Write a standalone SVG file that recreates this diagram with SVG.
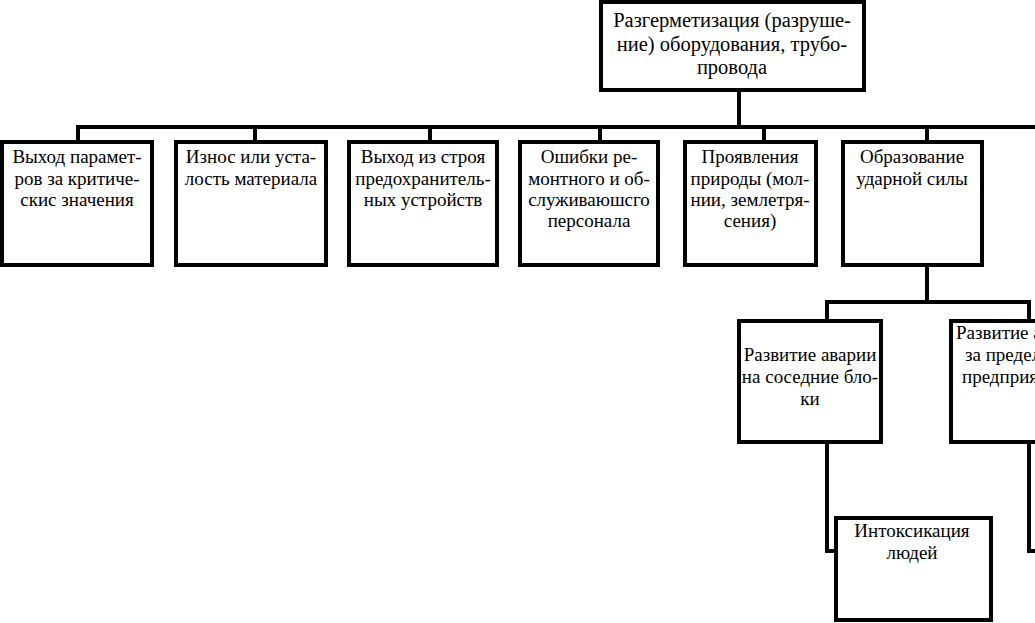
<svg xmlns="http://www.w3.org/2000/svg" width="1035" height="623" viewBox="0 0 1035 623">
<style>
.box{fill:#fff;stroke:#000;stroke-width:4}
.ln{fill:none;stroke:#000;stroke-width:4}
text{font-family:"Liberation Serif","DejaVu Serif",serif;font-size:19px;fill:#000}
.t{font-size:20.5px}
.c{text-anchor:middle}
</style>
<rect width="1035" height="623" fill="#fff"/>
<g id="connectors">
<polyline class="ln" points="739,90 739,127"/>
<polyline class="ln" points="78,142 78,127 1035,127"/>
<polyline class="ln" points="255,127 255,142"/>
<polyline class="ln" points="430,127 430,142"/>
<polyline class="ln" points="600,127 600,142"/>
<polyline class="ln" points="764,127 764,142"/>
<polyline class="ln" points="927,127 927,142"/>
<polyline class="ln" points="927,265 927,302"/>
<polyline class="ln" points="827,321 827,302 1029,302 1029,321"/>
<polyline class="ln" points="827,442 827,551 837,551"/>
<polyline class="ln" points="1029,442 1029,551 1035,551"/>
</g>
<g id="n0"><rect class="box" x="601" y="2" width="263" height="88"/>
<text class="c t" x="732" y="27">Разгерметизация (разруше-</text>
<text class="c t" x="732" y="51">ние) оборудования, трубо-</text>
<text class="c t" x="732" y="74">провода</text></g>
<g id="n1"><rect class="box" x="2" y="142" width="150" height="123"/>
<text class="c" x="77" y="163">Выход парамет-</text>
<text class="c" x="77" y="185">ров за критиче-</text>
<text class="c" x="77" y="206">скис значения</text></g>
<g id="n2"><rect class="box" x="176" y="142" width="150" height="123"/>
<text class="c" x="251" y="163">Износ или уста-</text>
<text class="c" x="251" y="185">лость материала</text></g>
<g id="n3"><rect class="box" x="349" y="142" width="148" height="123"/>
<text class="c" x="423" y="163">Выход из строя</text>
<text class="c" x="423" y="185">предохранитель-</text>
<text class="c" x="423" y="206">ных устройств</text></g>
<g id="n4"><rect class="box" x="520" y="142" width="138" height="123"/>
<text class="c" x="589" y="163">Ошибки ре-</text>
<text class="c" x="589" y="185">монтного и об-</text>
<text class="c" x="589" y="206">служиваюшсго</text>
<text class="c" x="589" y="227">персонала</text></g>
<g id="n5"><rect class="box" x="685" y="142" width="131" height="123"/>
<text class="c" x="750" y="163">Проявления</text>
<text class="c" x="750" y="185">природы (мол-</text>
<text class="c" x="750" y="206">нии, землетря-</text>
<text class="c" x="750" y="227">сения)</text></g>
<g id="n6"><rect class="box" x="843" y="142" width="139" height="123"/>
<text class="c" x="912" y="163">Образование</text>
<text class="c" x="912" y="185">ударной силы</text></g>
<g id="n7"><rect class="box" x="739" y="321" width="142" height="121"/>
<text class="c" x="810" y="361">Развитие аварии</text>
<text class="c" x="810" y="383">на соседние бло-</text>
<text class="c" x="810" y="405">ки</text></g>
<g id="n8"><rect class="box" x="951" y="321" width="142" height="121"/>
<text x="956" y="339">Развитие аварии</text>
<text x="965" y="361">за пределы</text>
<text x="962" y="383">предприятия</text></g>
<g id="n9"><rect class="box" x="836" y="518" width="155" height="102"/>
<text class="c" x="912" y="537">Интоксикация</text>
<text class="c" x="912" y="559">людей</text></g>
</svg>
